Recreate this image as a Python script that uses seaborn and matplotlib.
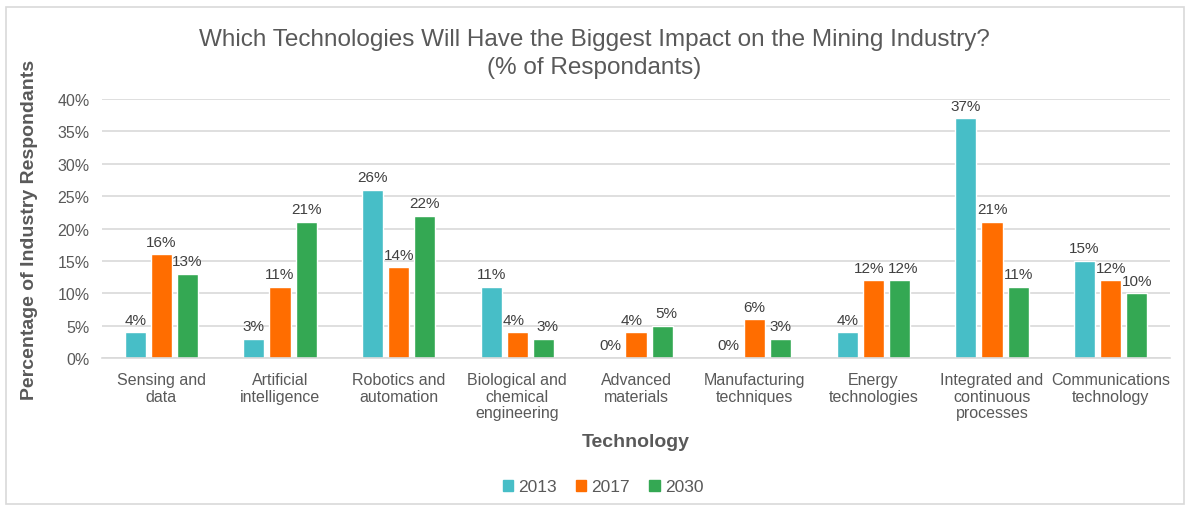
import matplotlib
matplotlib.use("Agg")
import matplotlib.pyplot as plt
import matplotlib.patches as mpatches
import seaborn as sns
import pandas as pd

categories = [
    "Sensing and\ndata",
    "Artificial\nintelligence",
    "Robotics and\nautomation",
    "Biological and\nchemical\nengineering",
    "Advanced\nmaterials",
    "Manufacturing\ntechniques",
    "Energy\ntechnologies",
    "Integrated and\ncontinuous\nprocesses",
    "Communications\ntechnology",
]
years = ["2013", "2017", "2030"]
values_2013 = [4, 3, 26, 11, 0, 0, 4, 37, 15]
values_2017 = [16, 11, 14, 4, 4, 6, 12, 21, 12]
values_2030 = [13, 21, 22, 3, 5, 3, 12, 11, 10]
yticks = [0, 5, 10, 15, 20, 25, 30, 35, 40]

colors = ["#47BEC7", "#FF6D00", "#34A853"]

rows = []
for year, vals in zip(years, [values_2013, values_2017, values_2030]):
    for cat, v in zip(categories, vals):
        rows.append({"Technology": cat, "Year": year, "Value": v})
df = pd.DataFrame(rows)

sns.set_theme(style="white")
plt.rcParams["font.family"] = ["Liberation Sans", "DejaVu Sans"]

fig = plt.figure(figsize=(11.88, 5.10), dpi=100)
ax = fig.add_axes([102 / 1188, 1 - 359 / 510, (1170 - 102) / 1188, (359 - 100) / 510])

sns.barplot(data=df, x="Technology", y="Value", hue="Year", palette=colors,
            order=categories, hue_order=years, width=0.66, gap=0.19,
            ax=ax, legend=False, saturation=1)

# value labels above each bar; labels of neighbouring bars with equal height
# are pushed slightly apart so they don't collide
series = [values_2013, values_2017, values_2030]
for k, container in enumerate(ax.containers):
    texts = ax.bar_label(container, labels=[f"{v:.0f}%" for v in container.datavalues],
                         padding=4, fontsize=11, color="#404040")
    for i, t in enumerate(texts):
        dx = 0
        if k > 0 and abs(series[k - 1][i] - series[k][i]) < 2:
            dx += 3
        if k < len(series) - 1 and abs(series[k + 1][i] - series[k][i]) < 2:
            dx -= 3
        if dx:
            x, y = t.xyann
            t.xyann = (x + dx, y)

ax.set_ylim(0, 40)
ax.set_yticks(yticks)
ax.set_yticklabels([f"{t}%" for t in yticks], fontsize=11.5, color="#595959")
ax.yaxis.grid(True, color="#D9D9D9", linewidth=1.2)
ax.set_axisbelow(True)
for s in ["top", "right", "left"]:
    ax.spines[s].set_visible(False)
ax.spines["bottom"].set_color("#D9D9D9")
ax.spines["bottom"].set_linewidth(1.2)
ax.tick_params(axis="y", length=0, pad=9)
ax.tick_params(axis="x", length=0, pad=10)
ax.set_xticks(range(len(categories)))
ax.set_xticklabels(categories, fontsize=11.5, color="#595959", linespacing=1.15)
ax.set_xlim(-0.5, len(categories) - 0.5)

ax.set_xlabel("Technology", fontsize=14, fontweight="bold", color="#595959", labelpad=9)
ax.set_ylabel("Percentage of Industry Respondants", fontsize=14, fontweight="bold",
              color="#595959", labelpad=14)

fig.text(0.5, 1 - 54 / 510, "Which Technologies Will Have the Biggest Impact on the Mining Industry?\n(% of Respondants)",
         ha="center", va="center", fontsize=17.5, color="#595959", linespacing=1.4)

handles = [mpatches.Patch(color=c, label=y) for c, y in zip(colors, years)]
fig.legend(handles=handles, loc="center", bbox_to_anchor=(603 / 1188, 1 - 488 / 510), ncol=3,
           frameon=False, fontsize=12.5, handlelength=0.6, handleheight=0.6,
           handletextpad=0.3, columnspacing=1.1, labelcolor="#595959")

fig.add_artist(mpatches.Rectangle((6 / 1188, 5 / 510), 1 - 10 / 1188, 1 - 13 / 510,
                                  transform=fig.transFigure, fill=False,
                                  edgecolor="#D9D9D9", linewidth=1.2))

fig.savefig("out.png", dpi=100)
